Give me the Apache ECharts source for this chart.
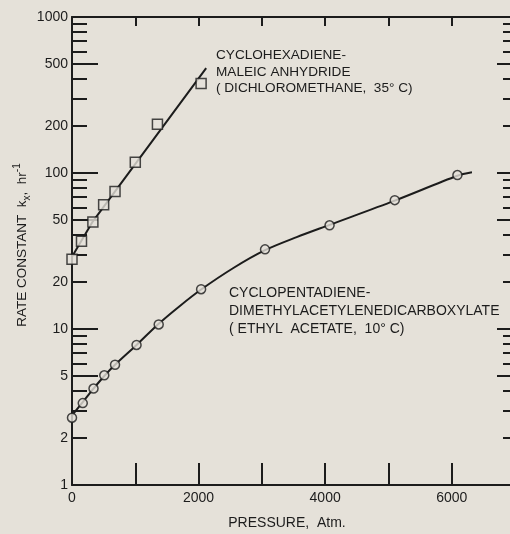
<!DOCTYPE html>
<html>
<head>
<meta charset="utf-8">
<script src="https://cdn.jsdelivr.net/npm/echarts@6.0.0/dist/echarts.min.js"></script>
<style>
  html, body { margin: 0; padding: 0; background: #e5e1d9; }
  #chart { width: 510px; height: 534px; }
</style>
</head>
<body>
<div id="chart"></div>
<script>
// cyclohexadiene + maleic anhydride (squares)
const pressureHex = [0, 150, 330, 500, 680, 1000, 1350, 2040];
const rateHex = [28, 36.5, 48.5, 62.5, 76, 117, 205, 375];
// fitted line for squares
const fitHexP = [0, 330, 2120];
const fitHexK = [29, 49, 470];

// cyclopentadiene + dimethylacetylenedicarboxylate (circles)
const pressurePent = [0, 170, 340, 510, 680, 1020, 1370, 2040, 3050, 4070, 5100, 6090];
const ratePent = [2.7, 3.35, 4.15, 5.05, 5.9, 7.9, 10.7, 18, 32.4, 46.2, 67, 97];
// fitted curve for circles
const fitPentP = [0, 170, 340, 510, 680, 1020, 1370, 1700, 2040, 2550, 3050, 3550, 4070, 5100, 6090, 6320];
const fitPentK = [2.8, 3.4, 4.15, 5.0, 5.9, 7.9, 10.8, 14.0, 17.9, 24.6, 32, 38.8, 46.5, 66.5, 96, 101];

const xLabels = [0, 2000, 4000, 6000];
const yLabels = [1, 2, 5, 10, 20, 50, 100, 200, 500, 1000];
const yLongTicks = [5, 10, 50, 100, 500];
const yShortTicks = [2, 3, 4, 6, 7, 8, 9, 20, 30, 40, 60, 70, 80, 90, 200, 300, 400, 600, 700, 800, 900];

const ink = '#1c1c1c';
const paper = '#e5e1d9';
const font = 'Liberation Sans';

function pairs(xs, ys) {
    return xs.map((x, i) => [x, ys[i]]);
}

function logAxis(pos, ticks, len, extra) {
    return Object.assign({
        type: 'log',
        logBase: 10,
        min: 1,
        max: 1000,
        position: pos,
        axisLine: { show: false },
        axisTick: { show: true, inside: true, length: len, customValues: ticks, lineStyle: { color: ink, width: 2 } },
        axisLabel: { show: false },
        splitLine: { show: false }
    }, extra || {});
}

var chartDom = document.getElementById('chart');
var myChart = echarts.init(chartDom);

var option = {
    backgroundColor: paper,
    animation: false,
    grid: { left: 72, right: -5, top: 17, bottom: 49, containLabel: false, outerBoundsMode: 'none' },
    xAxis: [
        {
            type: 'value',
            min: 0,
            max: 7000,
            interval: 1000,
            position: 'bottom',
            name: 'PRESSURE,  Atm.',
            nameLocation: 'middle',
            nameGap: 31,
            nameMoveOverlap: false,
            nameTextStyle: { fontFamily: font, fontSize: 14, color: ink, padding: [0, 13, 0, 0], verticalAlign: 'top' },
            axisLine: { show: true, lineStyle: { color: ink, width: 2 } },
            axisTick: { show: true, inside: true, length: 22, lineStyle: { color: ink, width: 2 } },
            axisLabel: {
                customValues: xLabels,
                formatter: v => String(v),
                margin: 6,
                fontFamily: font, fontSize: 14, color: ink
            },
            splitLine: { show: false }
        },
        {
            type: 'value',
            min: 0,
            max: 7000,
            interval: 1000,
            position: 'top',
            axisLine: { show: true, lineStyle: { color: ink, width: 2 } },
            axisTick: { show: true, inside: true, length: 9, lineStyle: { color: ink, width: 2 } },
            axisLabel: { show: false },
            splitLine: { show: false }
        }
    ],
    yAxis: [
        logAxis('left', yLongTicks, 26, {
            axisLine: { show: true, lineStyle: { color: ink, width: 2 } },
            axisLabel: {
                show: true,
                customValues: yLabels,
                formatter: v => String(v),
                margin: 4,
                fontFamily: font, fontSize: 14, color: ink
            },
            name: '{a|RATE CONSTANT  k}{s|x}{a|,  hr}{p|-1}',
            nameLocation: 'middle',
            nameGap: 40,
            nameMoveOverlap: false,
            nameRotate: 90,
            nameTextStyle: {
                padding: [0, 0, 0, 12],
                rich: {
                    a: { fontFamily: font, fontSize: 13.5, color: ink, lineHeight: 20, verticalAlign: 'middle' },
                    s: { fontFamily: font, fontSize: 10, color: ink, lineHeight: 20, verticalAlign: 'bottom' },
                    p: { fontFamily: font, fontSize: 10, color: ink, lineHeight: 20, verticalAlign: 'top' }
                }
            }
        }),
        logAxis('left', yShortTicks, 15),
        logAxis('right', yLongTicks, 18, { axisLine: { show: true, lineStyle: { color: ink, width: 2 } } }),
        logAxis('right', yShortTicks, 12)
    ],
    graphic: [
        {
            type: 'text',
            left: 216,
            top: 47,
            style: {
                text: 'CYCLOHEXADIENE-\nMALEIC ANHYDRIDE\n( DICHLOROMETHANE,  35° C)',
                fontFamily: font,
                fontSize: 13.6,
                lineHeight: 16.5,
                fill: ink
            }
        },
        {
            type: 'text',
            left: 229,
            top: 284,
            style: {
                text: 'CYCLOPENTADIENE-\nDIMETHYLACETYLENEDICARBOXYLATE\n( ETHYL  ACETATE,  10° C)',
                fontFamily: font,
                fontSize: 14,
                lineHeight: 18,
                fill: ink
            }
        }
    ],
    series: [
        {
            name: 'fit hexadiene',
            type: 'line',
            data: pairs(fitHexP, fitHexK),
            showSymbol: false,
            lineStyle: { color: ink, width: 2 },
            z: 2
        },
        {
            name: 'fit pentadiene',
            type: 'line',
            data: pairs(fitPentP, fitPentK),
            smooth: 0.3,
            showSymbol: false,
            lineStyle: { color: ink, width: 2 },
            z: 2
        },
        {
            name: 'cyclohexadiene',
            type: 'scatter',
            data: pairs(pressureHex, rateHex),
            symbol: 'rect',
            symbolSize: 10,
            itemStyle: { color: paper, borderColor: ink, borderWidth: 1.5 },
            z: 3
        },
        {
            name: 'cyclopentadiene',
            type: 'scatter',
            data: pairs(pressurePent, ratePent),
            symbol: 'circle',
            symbolSize: 9,
            itemStyle: { color: paper, borderColor: ink, borderWidth: 1.5 },
            z: 3
        }
    ]
};

option && myChart.setOption(option);
</script>
</body>
</html>
